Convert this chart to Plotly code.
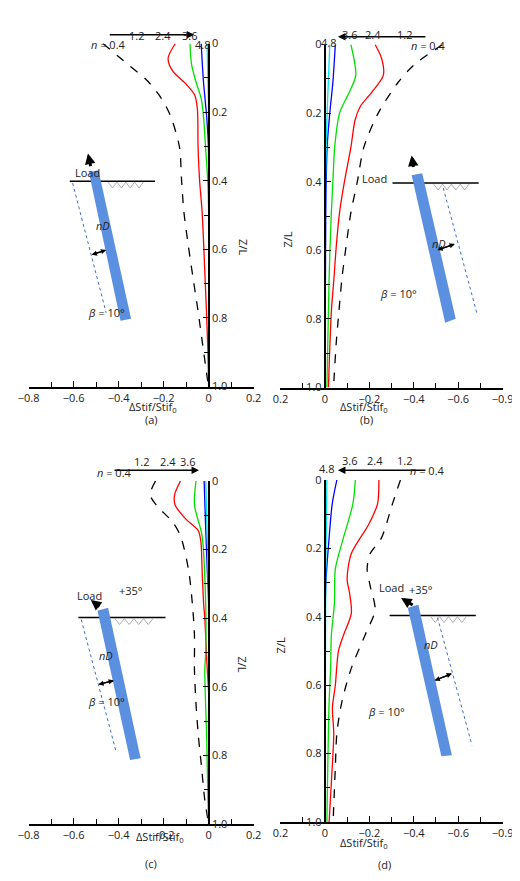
import plotly.graph_objects as go

W, H = 520, 881
def px(x): return x / W
def py(y): return 1 - y / H

# ---- data: (Z/L, ΔStif/Stif0) per series ----
a_z = {
 "0.4": [0, 0.06, 0.11, 0.16, 0.21, 0.30, 0.40, 0.49, 0.59, 0.68, 0.78, 0.88, 0.97, 1.0],
 "1.2": [0, 0.043, 0.08, 0.12, 0.15, 0.19, 0.30, 0.40, 0.49, 0.68, 0.88, 1.0],
 "2.4": [0, 0.06, 0.11, 0.16, 0.21, 0.30, 0.40, 0.49, 1.0],
 "3.6": [0, 0.11, 0.21, 0.30, 1.0],
 "4.8": [0, 0.11, 0.21, 1.0]}
a_v = {
 "0.4": [-0.47, -0.36, -0.27, -0.21, -0.17, -0.13, -0.12, -0.11, -0.09, -0.07, -0.047, -0.026, -0.007, 0],
 "1.2": [-0.148, -0.18, -0.16, -0.098, -0.062, -0.05, -0.047, -0.04, -0.029, -0.016, -0.004, 0],
 "2.4": [-0.083, -0.076, -0.057, -0.033, -0.023, -0.014, -0.004, 0, 0],
 "3.6": [-0.033, -0.023, -0.009, -0.001, 0],
 "4.8": [-0.007, -0.003, 0, 0]}
b_z = {
 "0.4": [0, 0.06, 0.11, 0.20, 0.30, 0.40, 0.49, 0.59, 0.68, 0.78, 0.87, 1.0],
 "1.2": [0, 0.04, 0.09, 0.14, 0.18, 0.22, 0.30, 0.40, 0.49, 0.59, 0.68, 0.78, 1.0],
 "2.4": [0, 0.09, 0.14, 0.20, 0.30, 0.40, 0.49, 0.68, 1.0],
 "3.6": [0, 0.11, 0.20, 0.30, 0.49, 1.0],
 "4.8": [0, 0.20, 0.40, 1.0]}
b_v = {
 "0.4": [-0.53, -0.40, -0.33, -0.24, -0.175, -0.146, -0.117, -0.095, -0.077, -0.063, -0.051, -0.039],
 "1.2": [-0.226, -0.255, -0.263, -0.21, -0.16, -0.136, -0.117, -0.088, -0.066, -0.051, -0.041, -0.029, -0.016],
 "2.4": [-0.117, -0.139, -0.109, -0.066, -0.044, -0.036, -0.029, -0.019, -0.009],
 "3.6": [-0.047, -0.036, -0.022, -0.01, -0.004, 0],
 "4.8": [-0.022, -0.01, -0.003, 0]}
c_z = {
 "0.4": [0, 0.04, 0.07, 0.12, 0.16, 0.26, 0.36, 0.45, 0.55, 0.64, 0.74, 0.83, 0.93, 1.0],
 "1.2": [0, 0.04, 0.07, 0.11, 0.145, 0.18, 0.26, 0.36, 0.40, 0.50, 0.55, 0.62, 1.0],
 "2.4": [0, 0.07, 0.16, 0.36, 0.50, 0.55, 0.64, 0.74, 0.93, 1.0],
 "3.6": [0, 0.12, 0.26, 0.36, 1.0],
 "4.8": [0, 0.16, 0.36, 1.0]}
c_v = {
 "0.4": [-0.236, -0.26, -0.233, -0.16, -0.125, -0.089, -0.072, -0.063, -0.063, -0.057, -0.046, -0.032, -0.017, 0],
 "1.2": [-0.125, -0.151, -0.149, -0.103, -0.046, -0.034, -0.029, -0.022, -0.017, -0.01, -0.006, 0, 0],
 "2.4": [-0.056, -0.063, -0.029, -0.013, -0.013, -0.017, -0.014, -0.009, -0.003, 0],
 "3.6": [-0.02, -0.014, -0.006, 0, 0],
 "4.8": [-0.013, -0.006, 0, 0]}
d_z = {
 "0.4": [0, 0.07, 0.17, 0.215, 0.26, 0.31, 0.38, 0.45, 0.55, 0.65, 0.74, 0.84, 1.0],
 "1.2": [0, 0.07, 0.13, 0.215, 0.29, 0.33, 0.39, 0.455, 0.50, 0.60, 0.665, 0.74, 0.84, 1.0],
 "2.4": [0, 0.07, 0.17, 0.26, 0.36, 0.455, 0.55, 0.65, 1.0],
 "3.6": [0, 0.07, 0.17, 0.31, 1.0],
 "4.8": [0, 0.26, 1.0]}
d_v = {
 "0.4": [-0.34, -0.304, -0.254, -0.204, -0.19, -0.204, -0.226, -0.183, -0.119, -0.076, -0.054, -0.047, -0.037],
 "1.2": [-0.243, -0.237, -0.197, -0.119, -0.10, -0.111, -0.119, -0.083, -0.061, -0.047, -0.034, -0.04, -0.033, -0.019],
 "2.4": [-0.137, -0.126, -0.083, -0.047, -0.043, -0.029, -0.026, -0.019, -0.009],
 "3.6": [-0.054, -0.033, -0.019, -0.004, 0],
 "4.8": [-0.009, -0.004, 0]}

series = ["0.4", "1.2", "2.4", "3.6", "4.8"]
colors = {"0.4": "black", "1.2": "#ff0000", "2.4": "#00dd00", "3.6": "#0000ff", "4.8": "#00e5ee"}
x_ticks_left = [-0.8, -0.6, -0.4, -0.2, 0, 0.2]
x_text_left = ["−0.8", "−0.6", "−0.4", "−0.2", "0", "0.2"]
x_ticks_right = [0.2, 0, -0.2, -0.4, -0.6, -0.8]
x_text_right = ["0.2", "0", "−0.2", "−0.4", "−0.6", "−0.9"]
y_ticks = [0, 0.2, 0.4, 0.6, 0.8, 1.0]
y_text = ["0", "0.2", "0.4", "0.6", "0.8", "1.0"]

FONT = "Open Sans"
fig = go.Figure()

panels = [
    ("a", a_z, a_v, (10, 245), (28, 377), False),
    ("b", b_z, b_v, (273, 505), (29, 378), True),
    ("c", c_z, c_v, (10, 245), (473, 822), False),
    ("d", d_z, d_v, (273, 505), (472, 820), True),
]
for i, (nm, Z, V, xd, yd, rev) in enumerate(panels):
    k = "" if i == 0 else str(i + 1)
    for s in series:
        fig.add_trace(go.Scatter(
            x=V[s], y=Z[s], mode="lines", xaxis="x" + k, yaxis="y" + k,
            line=dict(color=colors[s], width=1.3, shape="spline", smoothing=0.8,
                      dash="dash" if s == "0.4" else "solid"),
            showlegend=False, hoverinfo="skip"))
    xr = [0.2, -0.8] if rev else [-0.8, 0.2]
    x0pos = (xd[0] + (xd[1] - xd[0]) * (abs(xr[0] - 0) / 1.0)) / W
    fig.layout["xaxis" + k] = dict(
        domain=[px(xd[0]), px(xd[1])], range=xr, anchor="y" + k,
        tickvals=x_ticks_right if rev else x_ticks_left,
        ticktext=x_text_right if rev else x_text_left,
        ticks="inside", ticklen=6, tickwidth=1.3, tickcolor="black",
        minor=dict(dtick=0.1, tick0=0, ticks="inside", ticklen=5, tickcolor="black"),
        showline=True, linecolor="black", linewidth=1.5, showgrid=False, zeroline=False,
        tickfont=dict(family=FONT, size=11, color="#222"))
    fig.layout["yaxis" + k] = dict(
        domain=[py(yd[1]), py(yd[0])], range=[1.0, 0], anchor="free", position=x0pos,
        side="left" if rev else "right", tickvals=y_ticks, ticktext=y_text,
        ticks="inside", ticklen=5, tickcolor="black",
        minor=dict(dtick=0.1, tick0=0, ticks="inside", ticklen=4, tickcolor="black"),
        showline=True, linecolor="black", linewidth=2.2, showgrid=False, zeroline=False,
        tickfont=dict(family=FONT, size=11, color="#222"))

ann = []
shapes = []
def text(x, y, t, size=11, angle=0):
    ann.append(dict(x=px(x), y=py(y), xref="paper", yref="paper", text=t, showarrow=False,
                    textangle=angle, font=dict(family=FONT, size=size, color="#222")))
def arrow(x0, y0, x1, y1, w=1.5, head=2, size=1.0):
    ann.append(dict(x=px(x1), y=py(y1), ax=x0 - x1, ay=y0 - y1, xref="paper", yref="paper",
                    axref="pixel", ayref="pixel", text="", showarrow=True, arrowhead=head,
                    arrowwidth=w, arrowsize=size, arrowcolor="black", standoff=0, startstandoff=0))
def line(x0, y0, x1, y1, color="black", w=1.5, dash="solid"):
    shapes.append(dict(type="line", xref="paper", yref="paper", x0=px(x0), y0=py(y0),
                       x1=px(x1), y1=py(y1), line=dict(color=color, width=w, dash=dash)))
def poly(pts, color):
    p = "M " + " L ".join(f"{px(x)},{py(y)}" for x, y in pts) + " Z"
    shapes.append(dict(type="path", xref="paper", yref="paper", path=p,
                       fillcolor=color, line=dict(width=0)))
def hatch(x0, x1, y):
    n = 4
    step = (x1 - x0) / n
    pts = []
    for j in range(n + 1):
        pts.append((x0 + j * step, y))
        if j < n:
            pts.append((x0 + j * step + step / 2, y + 6))
    p = "M " + " L ".join(f"{px(a)},{py(b)}" for a, b in pts)
    shapes.append(dict(type="path", xref="paper", yref="paper", path=p,
                       line=dict(color="#999", width=0.8)))

nlab = "<i>n</i> = 0.4"
arrow(97, 19, 183, 19); text(73, 19, nlab)
for t, x in [("1.2", 113), ("2.4", 140), ("3.6", 168)]: text(x, 10, t)
text(192, 19, "4.8")
arrow(422, 21, 333, 21); text(448, 20, nlab); text(323, 17, "4.8")
for t, x in [("3.6", 355), ("2.4", 380), ("1.2", 412)]: text(x, 9, t)
arrow(102, 462, 188, 462); text(79, 464, nlab)
for t, x in [("1.2", 118), ("2.4", 145), ("3.6", 176)]: text(x, 453, t)
arrow(422, 462, 333, 462); text(447, 462, nlab); text(321, 460, "4.8")
for t, x in [("3.6", 355), ("2.4", 382), ("1.2", 412)]: text(x, 452, t)

piles = [
    dict(pile=[(73, 159), (83, 157), (117, 308), (106, 310)], ground=(53, 142, 168), hatch=(93, 130),
         dot=((56, 170), (91, 302)), nd=((76, 243), (91, 238)), ndt=(78, 203), beta=(70, 292),
         load=(56, 150), la=((75, 154), (72, 140)), plus=None),
    dict(pile=[(410, 162), (421, 160), (456, 308), (445, 312)], ground=(390, 480, 170), hatch=(433, 470),
         dot=((443, 175), (478, 302)), nd=((437, 238), (455, 232)), ndt=(448, 222), beta=(418, 273),
         load=(386, 156), la=((412, 155), (410, 142)), plus=None),
    dict(pile=[(82, 605), (93, 602), (127, 755), (116, 757)], ground=(62, 153, 612), hatch=(100, 140),
         dot=((65, 614), (101, 747)), nd=((83, 680), (99, 676)), ndt=(81, 660), beta=(70, 707),
         load=(58, 599), la=((85, 602), (75, 594)), plus=(102, 594)),
    dict(pile=[(406, 602), (417, 599), (452, 752), (441, 753)], ground=(387, 477, 610), hatch=(430, 467),
         dot=((437, 612), (473, 742)), nd=((434, 676), (452, 669)), ndt=(440, 649), beta=(405, 717),
         load=(404, 581), la=((412, 600), (399, 592)), plus=(434, 593)),
]
for p in piles:
    g = p["ground"]
    line(g[0], g[2], g[1], g[2], w=1.5)
    hatch(p["hatch"][0], p["hatch"][1], g[2] + 1)
    (d0, d1) = p["dot"]
    line(d0[0], d0[1], d1[0], d1[1], color="#3a6fc4", w=1, dash="dot")
    poly(p["pile"], "#5b8fe0")
    (n0, n1) = p["nd"]
    arrow(n0[0], n0[1], n1[0], n1[1], w=1.3, head=2, size=0.8)
    arrow(n1[0], n1[1], n0[0], n0[1], w=1.3, head=2, size=0.8)
    text(*p["ndt"], "<i>nD</i>")
    text(*p["beta"], "<i>β</i> = 10°")
    text(*p["load"], "Load")
    (l0, l1) = p["la"]
    arrow(l0[0], l0[1], l1[0], l1[1], w=3, head=2, size=0.7)
    if p["plus"]:
        text(*p["plus"], "+35°")

xt = "ΔStif/Stif<sub>0</sub>"
text(113, 398, xt); text(387, 398, xt); text(120, 845, xt); text(387, 852, xt)
text(235, 225, "Z/L", angle=90); text(280, 217, "Z/L", angle=-90)
text(233, 670, "Z/L", angle=90); text(273, 650, "Z/L", angle=-90)
text(129, 410, "(a)"); text(372, 410, "(b)"); text(129, 872, "(c)"); text(390, 873, "(d)")

fig.update_layout(width=W, height=H, margin=dict(l=0, r=0, t=0, b=0),
                  paper_bgcolor="white", plot_bgcolor="white",
                  annotations=ann, shapes=shapes, font=dict(family=FONT, size=11))
fig.write_html("out.html")
